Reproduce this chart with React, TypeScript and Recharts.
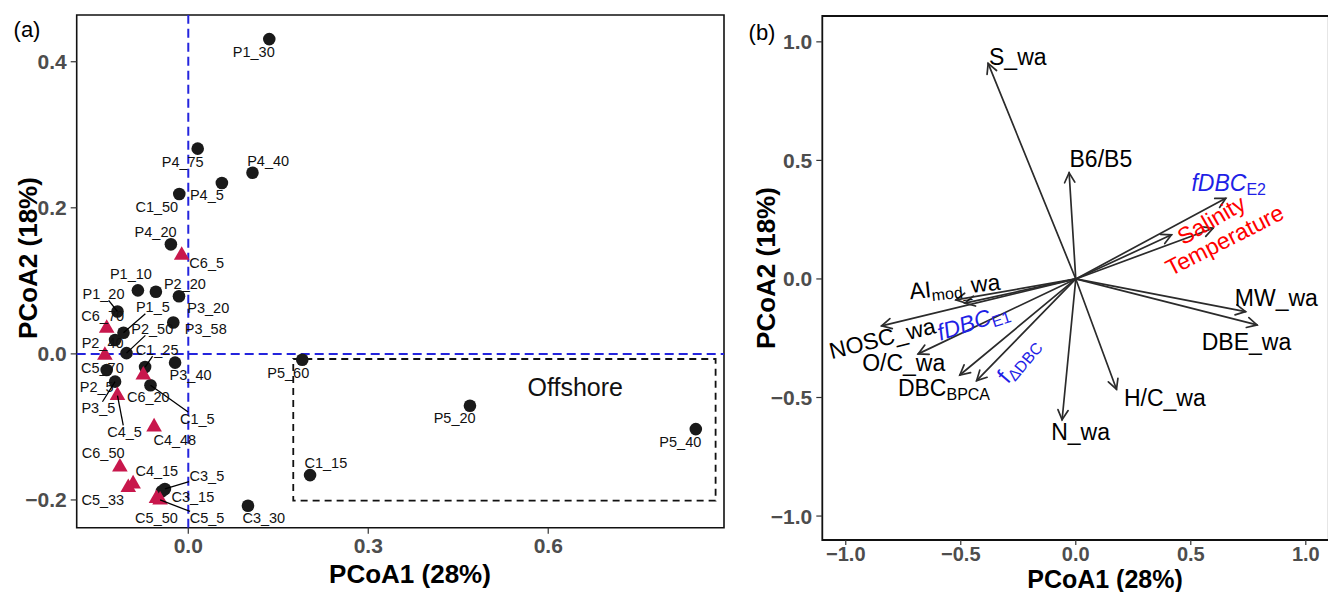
import { ScatterChart, Scatter, XAxis, YAxis, ReferenceLine, ReferenceArea } from "recharts";

const FONT = "'Liberation Sans', Arial, Helvetica, sans-serif";

// ---- panel (a): site scores ----
const circleNames = [
  "P1_30", "P4_75", "P4_40", "P4_5", "C1_50", "P4_20", "P1_10", "P2_20", "P3_20", "P1_20",
  "P3_58", "P1_5", "P2_40", "P2_50", "P3_40", "C1_25", "P2_5", "P3_5", "C1_5", "P5_60",
  "P5_20", "P5_40", "C1_15", "C3_30", "C3_5", "C3_15",
];
const circleX = [
  0.135, 0.0157, 0.107, 0.056, -0.015, -0.029, -0.084, -0.054, -0.0155, -0.118,
  -0.025, -0.108, -0.122, -0.103, -0.022, -0.072, -0.136, -0.122, -0.063, 0.19,
  0.4695, 0.846, 0.203, 0.0995, -0.039, -0.044,
];
const circleY = [
  0.431, 0.281, 0.248, 0.234, 0.219, 0.15, 0.087, 0.085, 0.079, 0.058,
  0.043, 0.029, 0.019, 0.001, -0.012, -0.018, -0.022, -0.038, -0.043, -0.008,
  -0.071, -0.103, -0.166, -0.208, -0.185, -0.188,
];

const triangleNames = ["C6_5", "C6_70", "C5_70", "C6_20", "C4_5", "C4_48", "C6_50", "C4_15", "C5_33", "C5_50", "C5_5"];
const triangleX = [-0.011, -0.136, -0.139, -0.075, -0.118, -0.057, -0.114, -0.092, -0.1, -0.053, -0.047];
const triangleY = [0.135, 0.035, -0.002, -0.029, -0.057, -0.1, -0.155, -0.178, -0.183, -0.198, -0.2];

// offshore box
const offshoreX = [0.175, 0.879];
const offshoreY = [-0.201, -0.007];

// label placement (px offset from the point, leader line flag)
const labelNudge: Record<string, [number, number, boolean]> = {
  P1_30: [-15.5, 12.4, false], P4_75: [-15, 13.4, false], P4_40: [15.7, -11.3, false],
  P4_5: [-15, 12.3, false], C1_50: [-22.5, 13.3, false], P4_20: [-15.3, -12, false],
  P1_10: [-7, -16.7, false], P2_20: [29, -7.4, false], P3_20: [29.3, 11.6, false],
  P1_20: [-14, -17.7, true], P3_58: [32.5, 6.3, false], P1_5: [29.4, -25.4, true],
  P2_40: [-12.5, 3.3, false], P2_50: [25.8, -24.3, true], P3_40: [15.5, 12.7, false],
  C1_25: [12, -17.3, true], P2_5: [-10, 16.7, false], P3_5: [-16.7, 26.6, true],
  C1_5: [46.8, 33.3, true], P5_60: [-14, 13.3, false], P5_20: [-15.3, 12.3, false],
  P5_40: [-15.5, 13, false], C1_15: [15.8, -11.7, false], C3_30: [15.8, 12.3, false],
  C3_5: [42, -12.6, true], C3_15: [31, 6, false],
  C6_5: [25, 7.4, false], C6_70: [-4, -12.3, false], C5_70: [-2.5, 13, false],
  C6_20: [5, 22.4, false], C4_5: [7, 36.4, true], C4_48: [20.7, 13, false],
  C6_50: [-16.7, -13.7, false], C4_15: [23.7, -13, false], C5_33: [-25.5, 12, false],
  C5_50: [0, 19.6, false], C5_5: [47, 18, true],
};

// ---- panel (b): variable loadings ----
const loadingNames = [
  "S_wa", "B6/B5", "fDBC_E2", "Salinity", "Temperature", "AI_mod_wa", "fDBC_E1", "NOSC_wa",
  "O/C_wa", "DBC_BPCA", "f_dDBC", "N_wa", "H/C_wa", "MW_wa", "DBE_wa",
];
const loadingX = [-0.381, -0.029, 0.652, 0.416, 0.597, -0.521, -0.482, -0.844, -0.685, -0.504, -0.431, -0.0595, 0.177, 0.738, 0.788];
const loadingY = [0.909, 0.448, 0.34, 0.186, 0.214, -0.0885, -0.102, -0.198, -0.316, -0.405, -0.429, -0.594, -0.465, -0.138, -0.194];

// label text pieces: main, subscript, tail
const labelMain = ["S_wa", "B6/B5", "fDBC", "Salinity", "Temperature", "AI", "fDBC", "NOSC_wa", "O/C_wa", "DBC", "f", "N_wa", "H/C_wa", "MW_wa", "DBE_wa"];
const labelSub = ["", "", "E2", "", "", "mod_", "E1", "", "", "BPCA", "\u0394DBC", "", "", "", ""];
const labelTail = ["", "", "", "", "", "wa", "", "", "", "", "", "", "", "", ""];
const labelX = [-0.252, 0.109, 0.665, 0.589, 0.647, -0.526, -0.446, -0.841, -0.748, -0.573, -0.251, 0.021, 0.387, 0.872, 0.742];
const labelY = [0.935, 0.505, 0.405, 0.249, 0.164, -0.032, -0.18, -0.25, -0.355, -0.46, -0.341, -0.644, -0.503, -0.081, -0.264];

const labelStyle: Record<string, { color: string; rot: number; italic?: boolean }> = {
  fDBC_E2: { color: "#1f1fe6", rot: 0, italic: true },
  Salinity: { color: "#ff0000", rot: -30 },
  Temperature: { color: "#ff0000", rot: -27 },
  AI_mod_wa: { color: "#000", rot: -6 },
  fDBC_E1: { color: "#1f1fe6", rot: -18, italic: true },
  NOSC_wa: { color: "#000", rot: -14 },
  f_dDBC: { color: "#1f1fe6", rot: -50 },
};

const circleData = circleNames.map((name, i) => ({ name, x: circleX[i], y: circleY[i] }));
const triangleData = triangleNames.map((name, i) => ({ name, x: triangleX[i], y: triangleY[i] }));
const siteLabelData = [...circleData, ...triangleData];
const loadingLabelData = loadingNames.map((name, i) => ({
  name, x: labelX[i], y: labelY[i], main: labelMain[i], sub: labelSub[i], tail: labelTail[i],
}));

const fmt = (v: number) => (v < 0 ? "\u2212" + Math.abs(v).toFixed(1) : v.toFixed(1));
const tickStyle = { fill: "#4d4d4d", fontSize: 21, fontWeight: 700, fontFamily: FONT };

const Dot = (p: any) => <circle cx={p.cx} cy={p.cy} r={6.3} fill="#1a1a1a" />;

const Tri = (p: any) => {
  const { cx, cy } = p;
  const h = 13.6, w = 15.6;
  return (
    <polygon
      points={`${cx},${cy - (2 * h) / 3} ${cx + w / 2},${cy + h / 3} ${cx - w / 2},${cy + h / 3}`}
      fill="#c8174c"
    />
  );
};

const SiteLabel = (p: any) => {
  const { cx, cy, payload } = p;
  const [dx, dy, leader] = labelNudge[payload.name] ?? [0, 13, false];
  const lx = cx + dx;
  const ly = cy + dy;
  let seg = null;
  if (leader) {
    const hw = payload.name.length * 4.2 + 1;
    const hh = 6.5;
    const vx = cx - lx;
    const vy = cy - ly;
    const t = Math.min(hw / Math.abs(vx || 1e-6), hh / Math.abs(vy || 1e-6));
    seg = <line x1={cx} y1={cy} x2={lx + vx * t} y2={ly + vy * t} stroke="#000" strokeWidth={1.3} />;
  }
  return (
    <g>
      {seg}
      <text x={lx} y={ly} textAnchor="middle" dominantBaseline="central" fontSize={14.5} fontFamily={FONT} fill="#111">
        {payload.name}
      </text>
    </g>
  );
};

const NoteLabel = (p: any) => (
  <text x={p.cx} y={p.cy} textAnchor="middle" dominantBaseline="central" fontSize={25} fontFamily={FONT} fill="#111">
    {p.payload.name}
  </text>
);

const Arrow = (p: any) => {
  const { x1, y1, x2, y2 } = p;
  const ang = Math.atan2(y2 - y1, x2 - x1);
  const L = 11;
  const A = Math.PI / 6.5;
  const ax = x2 - L * Math.cos(ang - A);
  const ay = y2 - L * Math.sin(ang - A);
  const bx = x2 - L * Math.cos(ang + A);
  const by = y2 - L * Math.sin(ang + A);
  return (
    <g stroke="#2b2b2b" strokeWidth={1.7} fill="none" strokeLinecap="round">
      <line x1={x1} y1={y1} x2={x2} y2={y2} />
      <polyline points={`${ax},${ay} ${x2},${y2} ${bx},${by}`} />
    </g>
  );
};

const LoadingLabel = (p: any) => {
  const { cx, cy, payload } = p;
  const st = labelStyle[payload.name] ?? { color: "#000", rot: 0 };
  return (
    <text
      x={cx}
      y={cy}
      textAnchor="middle"
      dominantBaseline="central"
      fontSize={23}
      fontFamily={FONT}
      fill={st.color}
      transform={st.rot ? `rotate(${st.rot} ${cx} ${cy})` : undefined}
    >
      <tspan fontStyle={st.italic ? "italic" : "normal"}>{payload.main}</tspan>
      {payload.sub ? (
        <tspan fontSize={16} dy={6}>
          {payload.sub}
        </tspan>
      ) : null}
      {payload.tail ? <tspan dy={-6}>{payload.tail}</tspan> : null}
    </text>
  );
};

const Title = ({ x, y, text, rotate = 0, size = 26, bold = true }: any) => (
  <div
    style={{
      position: "absolute",
      left: x,
      top: y,
      transform: `translate(-50%, -50%) rotate(${rotate}deg)`,
      fontFamily: FONT,
      fontSize: size,
      fontWeight: bold ? 700 : 400,
      whiteSpace: "nowrap",
      color: "#000",
      lineHeight: 1,
    }}
  >
    {text}
  </div>
);

const A_X: [number, number] = [-0.186, 0.893];
const A_Y: [number, number] = [-0.238, 0.464];
const B_X: [number, number] = [-1.102, 1.1];
const B_Y: [number, number] = [-1.101, 1.109];

export default function App() {
  return (
    <div style={{ position: "fixed", left: 0, top: 0, width: 1328, height: 592, overflow: "hidden", background: "#fff" }}>
      <div style={{ position: "absolute", left: 0, top: 0 }}>
        <ScatterChart width={740} height={592} margin={{ top: 15, right: 16, bottom: 24.3, left: 0 }}>
          <XAxis
            type="number"
            dataKey="x"
            domain={A_X}
            allowDataOverflow
            ticks={[0, 0.3, 0.6]}
            interval={0}
            tickFormatter={fmt}
            height={40}
            tickSize={6}
            tickMargin={4}
            axisLine={false}
            tickLine={{ stroke: "#333", strokeWidth: 1.2 }}
            tick={tickStyle}
          />
          <YAxis
            type="number"
            dataKey="y"
            domain={A_Y}
            allowDataOverflow
            ticks={[-0.2, 0, 0.2, 0.4]}
            interval={0}
            tickFormatter={fmt}
            width={76.7}
            tickSize={6}
            tickMargin={4}
            axisLine={false}
            tickLine={{ stroke: "#333", strokeWidth: 1.2 }}
            tick={tickStyle}
          />
          <ReferenceArea
            x1={offshoreX[0]}
            x2={offshoreX[1]}
            y1={offshoreY[0]}
            y2={offshoreY[1]}
            fill="none"
            stroke="#111"
            strokeWidth={1.8}
            strokeDasharray="7 5"
            ifOverflow="visible"
          />
          <ReferenceLine x={0} stroke="#2424dd" strokeWidth={2} strokeDasharray="9 5" ifOverflow="visible" />
          <ReferenceLine y={0} stroke="#2424dd" strokeWidth={2} strokeDasharray="9 5" ifOverflow="visible" />
          <Scatter data={circleData} shape={Dot} isAnimationActive={false} />
          <Scatter data={triangleData} shape={Tri} isAnimationActive={false} />
          <Scatter data={siteLabelData} shape={SiteLabel} isAnimationActive={false} />
          <Scatter data={[{ name: "Offshore", x: 0.645, y: -0.045 }]} shape={NoteLabel} isAnimationActive={false} />
          <ReferenceArea
            x1={A_X[0]}
            x2={A_X[1]}
            y1={A_Y[0]}
            y2={A_Y[1]}
            fill="none"
            stroke="#111"
            strokeWidth={1.6}
            ifOverflow="visible"
          />
        </ScatterChart>
      </div>

      <div style={{ position: "absolute", left: 740, top: 0 }}>
        <ScatterChart width={600} height={592} margin={{ top: 16, right: 11.2, bottom: 12, left: 0 }}>
          <XAxis
            type="number"
            dataKey="x"
            domain={B_X}
            allowDataOverflow
            ticks={[-1, -0.5, 0, 0.5, 1]}
            interval={0}
            tickFormatter={fmt}
            height={40}
            tickSize={5}
            tickMargin={2}
            axisLine={false}
            tickLine={{ stroke: "#333", strokeWidth: 1.2 }}
            tick={{ ...tickStyle, fontSize: 20 }}
          />
          <YAxis
            type="number"
            dataKey="y"
            domain={B_Y}
            allowDataOverflow
            ticks={[-1, -0.5, 0, 0.5, 1]}
            interval={0}
            tickFormatter={fmt}
            width={82.3}
            tickSize={6}
            tickMargin={4}
            axisLine={false}
            tickLine={{ stroke: "#333", strokeWidth: 1.2 }}
            tick={tickStyle}
          />
          {loadingNames.map((name, i) => (
            <ReferenceLine
              key={name}
              segment={[
                { x: 0, y: 0 },
                { x: loadingX[i], y: loadingY[i] },
              ]}
              shape={Arrow}
              ifOverflow="visible"
            />
          ))}
          <Scatter data={loadingLabelData} shape={LoadingLabel} isAnimationActive={false} />
          <ReferenceArea
            x1={B_X[0]}
            x2={B_X[1]}
            y1={B_Y[0]}
            y2={B_Y[1]}
            fill="none"
            stroke="#111"
            strokeWidth={1.8}
            ifOverflow="visible"
          />
        </ScatterChart>
      </div>

      <Title x={27} y={30} text="(a)" size={22} bold={false} />
      <Title x={762} y={33} text="(b)" size={22} bold={false} />
      <Title x={410} y={574} text="PCoA1 (28%)" />
      <Title x={28} y={258} text="PCoA2 (18%)" rotate={-90} />
      <Title x={1105} y={578.5} text="PCoA1 (28%)" size={25} />
      <Title x={766} y={268} text="PCoA2 (18%)" rotate={-90} />
    </div>
  );
}
